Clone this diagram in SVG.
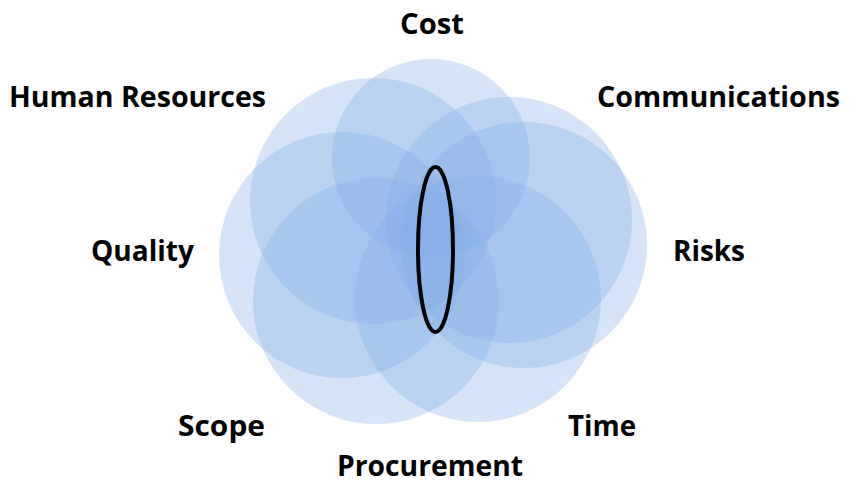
<svg xmlns="http://www.w3.org/2000/svg" width="849" height="492" viewBox="0 0 849 492">
  <style>
    .c { fill: rgb(131,173,231); fill-opacity: 0.33; stroke: none; }
    .lbl { font-family: "Open Sans", "Liberation Sans", sans-serif; font-weight: 700; font-size: 29px; fill: #000000; }
    .lens { fill: none; stroke: #000000; stroke-width: 4; }
  </style>
  <rect width="849" height="492" fill="#ffffff"/>
  <g id="circles">
    <circle id="c-cost" class="c" cx="431" cy="158" r="99"/>
    <circle id="c-hr" class="c" cx="373" cy="201" r="123"/>
    <circle id="c-comm" class="c" cx="509" cy="220" r="123"/>
    <circle id="c-quality" class="c" cx="342" cy="255" r="123"/>
    <circle id="c-risks" class="c" cx="524" cy="245" r="123"/>
    <circle id="c-scope" class="c" cx="376" cy="301" r="123"/>
    <circle id="c-time" class="c" cx="478" cy="299" r="123"/>
  </g>
  <g id="center">
    <ellipse class="lens" cx="435.5" cy="249.5" rx="17.5" ry="82.5"/>
  </g>
  <g id="connectors"></g>
  <g id="cost"><text class="lbl" x="400" y="34" textLength="64" lengthAdjust="spacingAndGlyphs">Cost</text></g>
  <g id="human-resources"><text class="lbl" x="9" y="107" textLength="257" lengthAdjust="spacingAndGlyphs">Human Resources</text></g>
  <g id="communications"><text class="lbl" x="597" y="107" textLength="243" lengthAdjust="spacingAndGlyphs">Communications</text></g>
  <g id="quality"><text class="lbl" x="91" y="261" textLength="103" lengthAdjust="spacingAndGlyphs">Quality</text></g>
  <g id="risks"><text class="lbl" x="673" y="261" textLength="72" lengthAdjust="spacingAndGlyphs">Risks</text></g>
  <g id="scope"><text class="lbl" x="178" y="436" textLength="87" lengthAdjust="spacingAndGlyphs">Scope</text></g>
  <g id="time"><text class="lbl" x="568" y="436" textLength="68" lengthAdjust="spacingAndGlyphs">Time</text></g>
  <g id="procurement"><text class="lbl" x="337" y="476" textLength="186" lengthAdjust="spacingAndGlyphs">Procurement</text></g>
</svg>
